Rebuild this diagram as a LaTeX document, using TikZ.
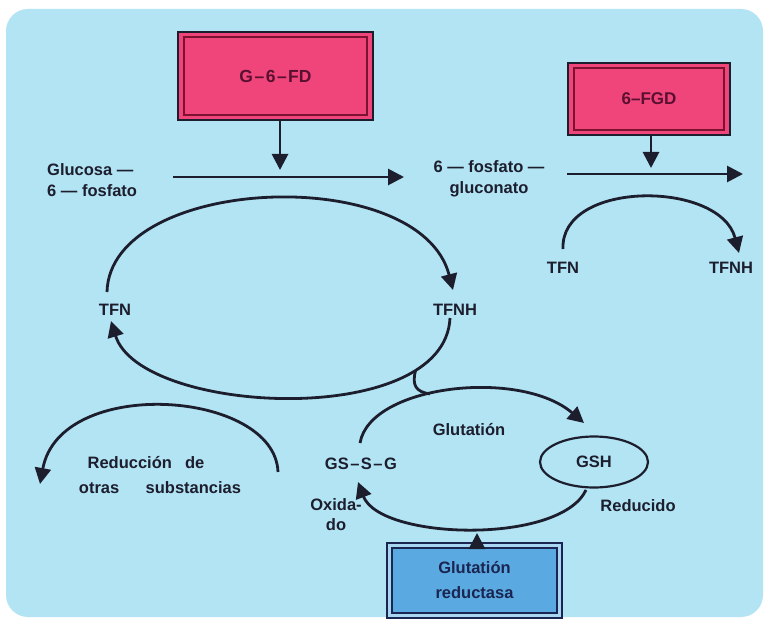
\documentclass[tikz,border=0pt]{standalone}
\usepackage{fontspec}
\setmainfont{Liberation Sans}
\usetikzlibrary{arrows.meta,calc,shapes.geometric}
\definecolor{bg}{HTML}{B3E4F4}
\definecolor{ink}{HTML}{1C1E2E}
\definecolor{pinkfill}{HTML}{F0457A}
\definecolor{maroon}{HTML}{5A1030}
\definecolor{redline}{HTML}{7A1230}
\definecolor{bluefill}{HTML}{5AA9E0}
\definecolor{bluegap}{HTML}{A8D5F0}
\definecolor{navy}{HTML}{1B2552}
\begin{document}
\begin{tikzpicture}[x=1pt,y=-1pt,
  lab/.style={font=\bfseries\fontsize{16.5}{21}\selectfont, text=ink, inner sep=0pt},
  flow/.style={draw=ink, line width=2.8pt, -{Triangle[length=16pt,width=16pt]}},
  plain/.style={draw=ink, line width=2.8pt},
  pinkbox/.style={fill=pinkfill, draw=ink, line width=1.4pt, inner sep=0pt},
  bluebox/.style={fill=bluegap, draw=navy, line width=1.8pt, inner sep=0pt},
  innerpink/.style={draw=redline, line width=1.8pt},
  innerblue/.style={draw=navy, line width=1.6pt, fill=bluefill},
  boxtext/.style={font=\bfseries\fontsize{17.5}{22}\selectfont, inner sep=0pt}
]
\useasboundingbox (0,0) rectangle (766,623);
\fill[white] (0,0) rectangle (766,623);
\fill[bg, rounded corners=22pt] (6,9) rectangle (763,617);

% enzyme boxes
\node[pinkbox, minimum width=195, minimum height=88] (g6fd) at (275.5,76) {};
\draw[innerpink] ($(g6fd.north west)+(7,6)$) rectangle ($(g6fd.south east)+(-7,-6)$);
\node[boxtext, text=maroon] (g6fdt) at (g6fd.center) {G\kern1.5pt–\kern1.5pt6\kern1.5pt–\kern1.5pt FD};

\node[pinkbox, minimum width=162, minimum height=72] (fgd) at (649,99) {};
\draw[innerpink] ($(fgd.north west)+(7,6)$) rectangle ($(fgd.south east)+(-7,-6)$);
\node[boxtext, text=maroon, font=\bfseries\fontsize{17}{22}\selectfont] (fgdt) at (fgd.center) {6–FGD};

\node[bluebox, minimum width=175, minimum height=75] (gr) at (474.5,580.5) {};
\draw[innerblue] ($(gr.north west)+(6,6)$) rectangle ($(gr.south east)+(-6,-6)$);
\node[text=navy, font=\bfseries\fontsize{16.5}{25}\selectfont, align=center, inner sep=0pt] (grt) at (gr.center) {Glutatión\\reductasa};

% labels
\node[lab, align=left, anchor=west] (glc) at (47,180) {Glucosa —\\6 — fosfato};
\node[lab, align=center] (pgl) at (489,179) {6 — fosfato —\\gluconato};
\node[lab] (tfn1) at (115,310) {TFN};
\node[lab] (tfnh1) at (455,310) {TFNH};
\node[lab] (tfn2) at (563,268) {TFN};
\node[lab] (tfnh2) at (731,268) {TFNH};
\node[lab] (red1) at (146,463) {Reducción\hspace{0.8em}de};
\node[lab] (red2) at (160,488) {otras\hspace{1.6em}substancias};
\node[lab] (gssg) at (361,464) {GS\kern1.5pt–\kern1.5pt S\kern1.5pt–\kern1.5pt G};
\node[lab] (glu) at (469,430) {Glutatión};
\node[lab, draw=ink, line width=2.2pt, ellipse, minimum width=108, minimum height=51] (gsh) at (594,462) {GSH};
\node[lab] (redu) at (638,506) {Reducido};
\node[lab, align=center, font=\bfseries\fontsize{16.5}{20}\selectfont] (ox) at (336,515) {Oxida-\\do};

% main flow
\coordinate (h1s) at (173,177);
\coordinate (h1e) at (404,177);
\coordinate (h2s) at (567,174);
\coordinate (h2e) at (743,174);
\coordinate (d1) at (280,170);
\coordinate (d2) at (651,168);
\coordinate (d3) at (477,533);
\draw[flow] (h1s) -- (h1e);
\draw[flow] (h2s) -- (h2e);
\draw[flow] (g6fd.south -| d1) -- (d1);
\draw[flow] (fgd.south -| d2) -- (d2);

% small TFN cycle
\draw[flow] (563,249) .. controls (560,180) and (720,180) .. (739,253);

% large TFN cycle
\draw[flow] (107,292) .. controls (110,175) and (420,162) .. (453,290);
\draw[flow] (450,318) .. controls (445,430) and (140,415) .. (111,321)
  coordinate[pos=0.2] (hk);

% glutathione cycle
\draw[flow] (360,443) .. controls (370,385) and (520,368) .. (584,423)
  coordinate[pos=0.42] (gm);
\draw[plain] (hk) .. controls +(-4,15) and +(-14,-2) .. (gm);
\draw[flow] (586,490) .. controls (560,545) and (380,540) .. (358,482);

% reduction of other substances
\draw[flow] (278,472) .. controls (275,390) and (60,375) .. (40,484);

% reductase arrow
\draw[flow] (gr.north -| d3) -- (d3);
\end{tikzpicture}
\end{document}
